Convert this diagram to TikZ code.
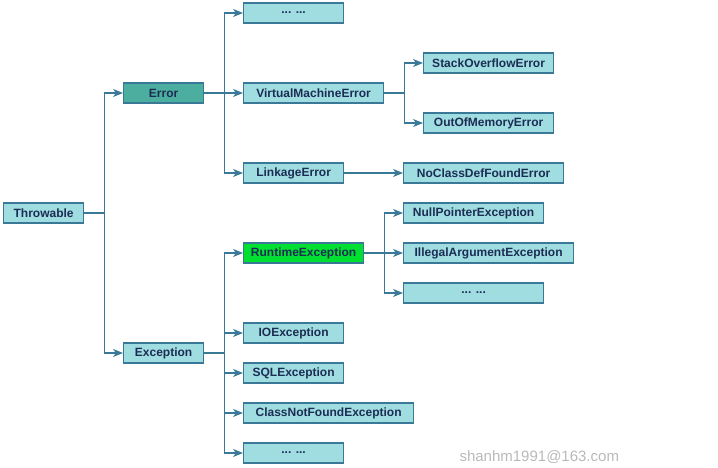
\documentclass[tikz,border=0pt]{standalone}
\usepackage{fontspec}
\setmainfont{Liberation Sans}
\usepackage{xcolor}
\usetikzlibrary{arrows.meta}
\definecolor{boxfill}{RGB}{160,221,224}
\definecolor{errfill}{RGB}{76,174,158}
\definecolor{rtfill}{RGB}{0,224,48}
\definecolor{edge}{RGB}{58,120,152}
\definecolor{ink}{RGB}{28,45,85}
\definecolor{mark}{RGB}{185,185,185}
\tikzset{
  cls/.style={draw=edge, fill=boxfill, line width=1.2pt, minimum height=20pt,
    inner sep=0pt, anchor=west, text=ink, font=\fontsize{12}{14}\selectfont\bfseries},
  link/.style={draw=edge, line width=1.2pt, -{Stealth[length=10pt,width=8pt,inset=3pt]}},
  plain/.style={draw=edge, line width=1.2pt}
}
\begin{document}
\begin{tikzpicture}[x=1pt,y=-1pt]
\useasboundingbox (0,0) rectangle (718,468);
% radice
\node[cls, minimum width=80pt] (throw) at (3,213) {Throwable};
% primo livello
\node[cls, minimum width=80pt, fill=errfill] (err) at (123,93) {Error};
\node[cls, minimum width=80pt] (exc) at (123,353) {Exception};
% figli di Error
\node[cls, minimum width=100pt] (edots) at (243,13) {... ...};
\node[cls, minimum width=140pt] (vme) at (243,93) {VirtualMachineError};
\node[cls, minimum width=100pt] (link) at (243,173) {LinkageError};
\node[cls, minimum width=130pt] (soe) at (423,63) {StackOverflowError};
\node[cls, minimum width=130pt] (oom) at (423,123) {OutOfMemoryError};
\node[cls, minimum width=160pt] (ncdf) at (403,173) {NoClassDefFoundError};
% figli di Exception
\node[cls, minimum width=120pt, fill=rtfill] (rte) at (243,253) {RuntimeException};
\node[cls, minimum width=140pt] (npe) at (403,213) {NullPointerException};
\node[cls, minimum width=170pt] (iae) at (403,253) {IllegalArgumentException};
\node[cls, minimum width=140pt] (rdots) at (403,293) {... ...};
\node[cls, minimum width=100pt] (ioe) at (243,333) {IOException};
\node[cls, minimum width=100pt] (sqle) at (243,373) {SQLException};
\node[cls, minimum width=170pt] (cnfe) at (243,413) {ClassNotFoundException};
\node[cls, minimum width=100pt] (xdots) at (243,453) {... ...};
% collegamenti
\draw[plain] (throw.east) -- ++(20,0);
\draw[link] (throw.east) -- ++(20,0) |- (err.west);
\draw[link] (throw.east) -- ++(20,0) |- (exc.west);
\draw[plain] (err.east) -- ++(20,0);
\foreach \t in {edots,vme,link}
  \draw[link] (err.east) -- ++(20,0) |- (\t.west);
\foreach \t in {soe,oom}
  \draw[link] (vme.east) -- ++(20,0) |- (\t.west);
\draw[link] (link.east) -- (ncdf.west);
\foreach \t in {rte,ioe,sqle,cnfe,xdots}
  \draw[link] (exc.east) -- ++(20,0) |- (\t.west);
\foreach \t in {npe,iae,rdots}
  \draw[link] (rte.east) -- ++(20,0) |- (\t.west);
% firma
\node[text=mark, font=\fontsize{15}{17}\selectfont, anchor=west] (sign) at (456,457) {shanhm1991@163.com};
\end{tikzpicture}
\end{document}
